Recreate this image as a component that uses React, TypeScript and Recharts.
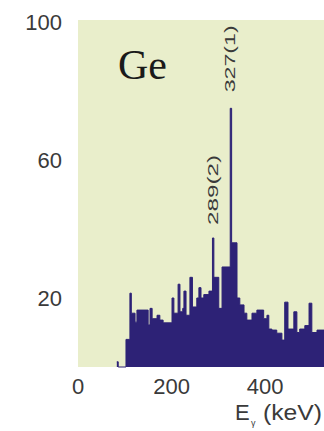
import React from "react"
import { ComposedChart, Area, XAxis, YAxis, CartesianGrid, ReferenceDot } from "recharts"

// Ge gamma spectrum, stepped counts per bin (bin start energy in keV)
const energies = [
  83, 86, 102.6, 111, 114, 122, 126, 150, 154, 158.5, 169, 175, 182, 201, 205, 214, 218, 224, 226.5, 231,
  239.3, 244.7, 254, 258.5, 263, 269, 280, 287.5, 290.5, 301, 308, 325.5, 328.5, 340, 346, 355, 361, 372,
  382.5, 397, 404, 408, 414.5, 425, 436, 442, 449, 461.5, 468, 474, 485, 494, 500, 511, 526,
]
const counts = [
  1.5, 0, 8, 21.4, 15.6, 13, 16.5, 12.2, 17, 14, 15, 13.6, 12.8, 20, 15.6, 24, 16, 17, 22, 15,
  26, 17.4, 20, 23, 20, 21, 22, 37.4, 26, 17, 29, 75, 36, 20, 18, 15.6, 13.6, 15.6,
  16.5, 14, 15, 11, 10.7, 9.8, 7.8, 18.8, 11, 16, 10, 11, 12, 18.5, 10, 10.7, 10.7,
]

// labelled transitions
const peakEnergies = [289, 327]
const peakCounts = [37.4, 75]
const peakTags = ["289(2)", "327(1)"]
const peakTagLengths = [70, 67]

const xTicks = [0, 200, 400]
const yTicks = [20, 60, 100]

const data = energies.map((e, i) => ({ e, c: counts[i] }))

const FILL = "#2d2276"
const BG = "#e9eecb"
const INK = "#3a3a3a"
const SANS = "'Liberation Sans', Arial, sans-serif"

const YTick = (props: any) => (
  <text x={props.x} y={props.y} textAnchor="end" dominantBaseline="central" fontSize={22} fill={INK} fontFamily={SANS}>
    {props.payload.value}
  </text>
)

const XTick = (props: any) => (
  <text x={props.x} y={props.y} dy="0.71em" textAnchor="middle" fontSize={22} fill={INK} fontFamily={SANS}>
    {props.payload.value}
  </text>
)

const AxisTitle = (props: any) => {
  const vb = props.viewBox
  const right = vb.x + vb.width - 2
  const base = vb.y + 53
  return (
    <g fontFamily={SANS} fill={INK}>
      <text x={235} y={base} fontSize={22}>E</text>
      <text x={251} y={base + 6} fontSize={9}>γ</text>
      <text x={263} y={base} fontSize={22} textLength={right - 263} lengthAdjust="spacingAndGlyphs">(keV)</text>
    </g>
  )
}

const peakTag = (text: string, len: number, gap: number) => (p: any) => {
  const x = p.cx - 1
  const y = p.cy - gap
  return (
    <text
      x={x}
      y={y}
      transform={`rotate(-90 ${x} ${y})`}
      textAnchor="start"
      dominantBaseline="central"
      fontSize={15}
      fill={INK}
      fontFamily={SANS}
      textLength={len}
      lengthAdjust="spacingAndGlyphs"
    >
      {text}
    </text>
  )
}

export default function App() {
  return (
    <div style={{ position: "fixed", left: 0, top: 0, width: 324, height: 431, background: "#fff" }}>
      <ComposedChart width={324} height={431} data={data} margin={{ top: 20, right: 0, bottom: 0, left: 0 }}>
        <CartesianGrid horizontal={false} vertical={false} fill={BG} />
        <XAxis
          dataKey="e"
          type="number"
          domain={[0, 526]}
          ticks={xTicks}
          allowDataOverflow
          height={64}
          axisLine={false}
          tickLine={false}
          tickSize={0}
          tickMargin={11}
          tick={XTick}
          interval={0}
          label={{ content: AxisTitle }}
        />
        <YAxis
          type="number"
          domain={[0, 100.6]}
          ticks={yTicks}
          width={78}
          axisLine={false}
          tickLine={false}
          tickSize={0}
          tickMargin={16}
          tick={YTick}
          interval={0}
        />
        <Area
          dataKey="c"
          type="stepAfter"
          baseValue={0}
          fill={FILL}
          fillOpacity={1}
          stroke={FILL}
          strokeWidth={1}
          dot={false}
          activeDot={false}
          isAnimationActive={false}
        />
        {peakEnergies.map((e, i) => (
          <ReferenceDot
            key={peakTags[i]}
            x={e}
            y={peakCounts[i]}
            r={0}
            ifOverflow="visible"
            shape={peakTag(peakTags[i], peakTagLengths[i], i === 0 ? 13 : 16)}
          />
        ))}
      </ComposedChart>
      <div
        style={{
          position: "absolute",
          left: 118,
          top: 42,
          fontFamily: "'Liberation Serif', 'Times New Roman', serif",
          fontSize: 42,
          lineHeight: "46px",
          color: "#1a1a1a",
        }}
      >
        Ge
      </div>
    </div>
  )
}
